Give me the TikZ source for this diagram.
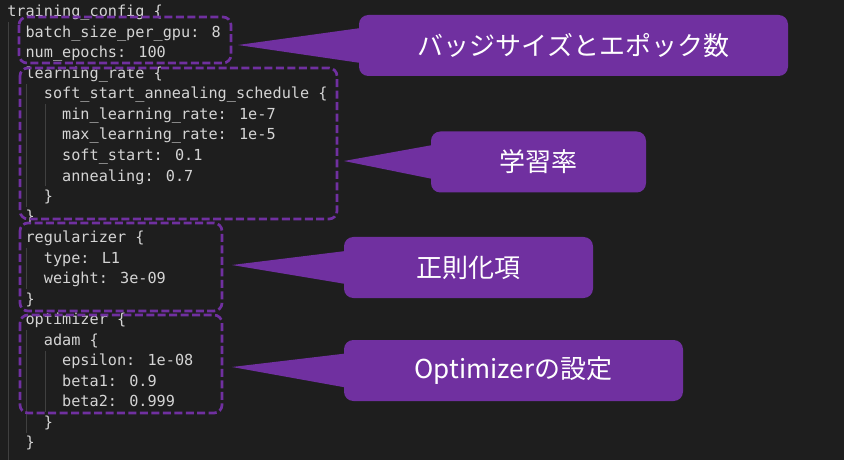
\documentclass[tikz,border=0pt]{standalone}
\usepackage{fontspec}
\usetikzlibrary{calc}
\newfontfamily\codefont{DejaVu Sans Mono}
\newfontfamily\jpfont{Noto Sans CJK JP}
\definecolor{bggray}{HTML}{1E1E1E}
\definecolor{codegray}{HTML}{D4D4D4}
\definecolor{guidegray}{HTML}{404040}
\definecolor{notepurple}{HTML}{7030A0}

\begin{document}
\begin{tikzpicture}
    [ x = .75pt, y = -.75pt
    , code/.style =
      { anchor = base west, inner sep = 0pt, text = codegray,
        font = \codefont\fontsize{11.4}{13}\selectfont }
    , guide/.style =
      { draw = guidegray, line width = .75pt }
    , group/.style =
      { draw = notepurple, line width = 2pt, dash pattern = on 6pt off 2.6pt,
        rounded corners = 6pt }
    , note/.style =
      { fill = notepurple, rounded corners = 7pt, text = white, inner sep = 0pt,
        font = \jpfont\fontsize{19.5}{22}\selectfont, minimum height = 45.75pt }
    , pointer/.style =
      { fill = notepurple }
    ]
    \fill [bggray] (0,0) rectangle (844,460);
    \useasboundingbox (0,0) rectangle (844,460);

    % indent guides
    \draw [guide] (8,22.5) -- (8,460);
    \draw [guide] (26.5,84) -- (26.5,207);
    \draw [guide] (45,104.5) -- (45,186.5);
    \draw [guide] (26.5,248) -- (26.5,289);
    \draw [guide] (26.5,330) -- (26.5,432.5);
    \draw [guide] (45,350.5) -- (45,412);

    \node [code] (l0) at (7,17) {training\_config \{};
    \node [code] (l1) at (25.3,37.5) {batch\_size\_per\_gpu: 8};
    \node [code] (l2) at (25.3,58) {num\_epochs: 100};
    \node [code] (l3) at (25.3,78.5) {learning\_rate \{};
    \node [code] (l4) at (43.6,99) {soft\_start\_annealing\_schedule \{};
    \node [code] (l5) at (61.9,119.5) {min\_learning\_rate: 1e-7};
    \node [code] (l6) at (61.9,140) {max\_learning\_rate: 1e-5};
    \node [code] (l7) at (61.9,160.5) {soft\_start: 0.1};
    \node [code] (l8) at (61.9,181) {annealing: 0.7};
    \node [code] (l9) at (43.6,201.5) {\}};
    \node [code] (l10) at (25.3,222) {\}};
    \node [code] (l11) at (25.3,242.5) {regularizer \{};
    \node [code] (l12) at (43.6,263) {type: L1};
    \node [code] (l13) at (43.6,283.5) {weight: 3e-09};
    \node [code] (l14) at (25.3,304) {\}};
    \node [code] (l15) at (25.3,324.5) {optimizer \{};
    \node [code] (l16) at (43.6,345) {adam \{};
    \node [code] (l17) at (61.9,365.5) {epsilon: 1e-08};
    \node [code] (l18) at (61.9,386) {beta1: 0.9};
    \node [code] (l19) at (61.9,406.5) {beta2: 0.999};
    \node [code] (l20) at (43.6,427) {\}};
    \node [code] (l21) at (25.3,447.5) {\}};

    % dashed groups
    \draw [group] (19,17) rectangle (231,63);
    \draw [group] (20,68) rectangle (337,219);
    \draw [group] (20,223) rectangle (222,311);
    \draw [group] (20,315) rectangle (222,413);

    % callouts
    \node [note, minimum width = 321.75pt] (n1) at (573.5,45.5) {バッジサイズとエポック数};
    \node [note, minimum width = 161.25pt] (n2) at (538.5,162) {学習率};
    \node [note, minimum width = 186.75pt] (n3) at (468.5,267.5) {正則化項};
    \node [note, minimum width = 254.25pt] (n4) at (513.5,370.5) {Optimizerの設定};

    \coordinate (p1) at (238,45);
    \coordinate (p2) at (344,161);
    \coordinate (p3) at (232,265);
    \coordinate (p4) at (232,367);

    \fill [pointer] (p1) -- ($(n1.west)+(2,-17.5)$) -- ($(n1.west)+(2,17.5)$) -- cycle;
    \fill [pointer] (p2) -- ($(n2.west)+(2,-17)$) -- ($(n2.west)+(2,17)$) -- cycle;
    \fill [pointer] (p3) -- ($(n3.west)+(2,-16.5)$) -- ($(n3.west)+(2,16.5)$) -- cycle;
    \fill [pointer] (p4) -- ($(n4.west)+(2,-17)$) -- ($(n4.west)+(2,17)$) -- cycle;
\end{tikzpicture}
\end{document}
